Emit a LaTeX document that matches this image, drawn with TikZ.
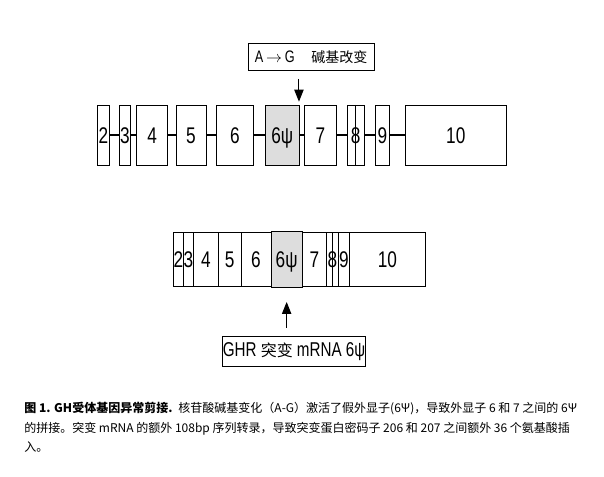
\documentclass[tikz,border=0pt]{standalone}
\usepackage{fontspec}
\setmainfont{Liberation Sans}
\newfontfamily\exfont[FakeStretch=0.76]{Liberation Sans}
\newfontfamily\cjk{Noto Sans CJK SC}
\definecolor{psigray}{RGB}{221,221,221}
\usetikzlibrary{arrows.meta,positioning}

\begin{document}
\begin{tikzpicture}[
  x=0.75pt,y=-0.75pt,
  exon/.style={draw,fill=white,inner sep=0pt,outer sep=0pt,minimum height=45pt,
    minimum width=#1*0.75pt,text height=12.2pt,text depth=0pt,
    font=\exfont\fontsize{17}{17}\selectfont},
  mexon/.style={exon=#1,minimum height=40pt},
  intron/.style={line width=1.5pt},
  note/.style={draw,fill=white,inner sep=0pt},
  arr/.style={-{Triangle[length=9pt,width=7pt]},line width=0.8pt}
]
  \path[use as bounding box,fill=white] (0,0) rectangle (604,477);
  % Gene with pseudo-exon
  \node[exon=11.6] (e2) at (103.5,135) {2};
  \node[exon=11.4] (e3) at (125,135) {3};
  \node[exon=31] (e4) at (152.2,135) {4};
  \node[exon=30] (e5) at (191,135) {5};
  \node[exon=36.6] (e6) at (235,135) {6};
  \node[exon=33.3,fill=psigray] (e6p) at (282.3,135) {6ψ};
  \node[exon=32.7] (e7) at (320.3,135) {7};
  \node[exon=16.7] (e8) at (355.7,135) {8};
  \node[exon=13.3] (e9) at (382.3,135) {9};
  \node[exon=101.7] (e10) at (455.8,135) {10};
  \draw (e8.north) -- (e8.south);
  \foreach \a/\b in {e2/e3,e3/e4,e4/e5,e5/e6,e6/e6p,e6p/e7,e7/e8,e8/e9,e9/e10}
    \draw[intron] (\a) -- (\b);
  % Base change
  \node[note,minimum width=94.3pt,minimum height=20.5pt] (ag) at (311.2,57)
    {\exfont\fontsize{12.5}{12.5}\selectfont A\,$\rightarrow$\,G\quad{\cjk\fontsize{10.5}{10.5}\selectfont 碱基改变}};
  \coordinate (agtip) at ([yshift=-6pt]ag.south -| e6p.north east);
  \draw[arr] (agtip) -- ([yshift=2.5pt]e6p.north east);
  % Mutant mRNA
  \node[mexon=10] (m2) at (178.3,259.3) {2};
  \node[mexon=10,right=0pt of m2] (m3) {3};
  \node[mexon=25,right=0pt of m3] (m4) {4};
  \node[mexon=22.7,right=0pt of m4] (m5) {5};
  \node[mexon=30,right=0pt of m5] (m6) {6};
  \node[mexon=31.3,minimum height=42pt,fill=psigray,right=0pt of m6] (m6p) {6ψ};
  \node[mexon=24.4,right=0pt of m6p] (m7) {7};
  \node[mexon=11.6,right=0pt of m7] (m8) {8};
  \node[mexon=11,right=0pt of m8] (m9) {9};
  \node[mexon=76.4,right=0pt of m9] (m10) {10};
  \draw (m8.north) -- (m8.south);
  \node[note,minimum width=105pt,minimum height=23pt] (ghr) at (294,351.3)
    {\exfont\fontsize{15}{15}\selectfont GHR {\cjk\fontsize{12}{12}\selectfont 突变} mRNA 6ψ};
  \draw[arr] ([yshift=6pt]ghr.north -| m6p.south) -- ([yshift=-11pt]m6p.south);
  % Caption
  \node[anchor=north west,inner sep=0pt,align=left,font=\cjk\fontsize{9}{14.6}\selectfont] (cap) at (24,402)
    {{\bfseries 图 1. GH受体基因异常剪接.}\enspace 核苷酸碱基变化（A-G）激活了假外显子(6Ψ)，导致外显子 6 和 7 之间的 6Ψ\\
     的拼接。突变 mRNA 的额外 108bp 序列转录，导致突变蛋白密码子 206 和 207 之间额外 36 个氨基酸插\\
     入。};
\end{tikzpicture}
\end{document}
